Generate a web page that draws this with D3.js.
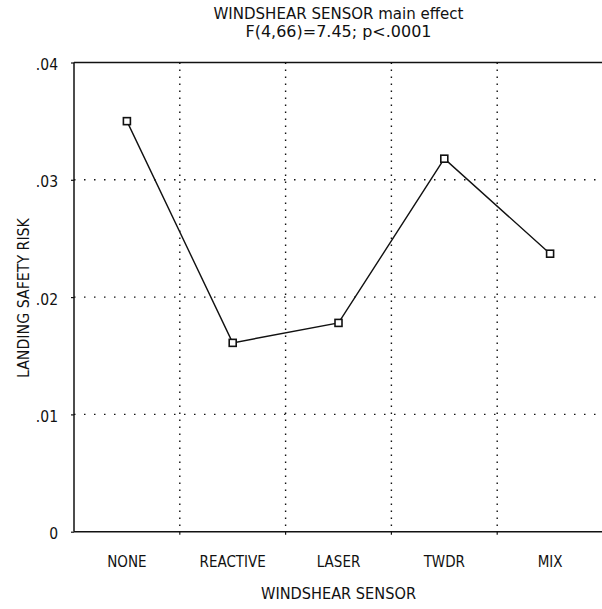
<!DOCTYPE html>
<html><head><meta charset="utf-8">
<script src="https://cdn.jsdelivr.net/npm/d3@7"></script>
<style>
html,body{margin:0;padding:0;background:#fff;}
text{font-family:"DejaVu Sans Condensed","DejaVu Sans",sans-serif;fill:#111;}
</style></head>
<body>
<svg id="c" width="602" height="609"></svg>
<script>
const categories = ["NONE","REACTIVE","LASER","TWDR","MIX"];
const values = [0.0350, 0.0161, 0.0178, 0.0318, 0.0237];
const yTicks = [0, 0.01, 0.02, 0.03, 0.04];
const yTickLabels = ["0", ".01", ".02", ".03", ".04"];
const titleLines = ["WINDSHEAR SENSOR main effect", "F(4,66)=7.45; p<.0001"];
const xTitle = "WINDSHEAR SENSOR";
const yTitle = "LANDING SAFETY RISK";

const svg = d3.select("#c");
const L = 74, R = 603, T = 62.5, B = 531.7;
const x = d3.scaleBand().domain(categories).range([L, R]).padding(0);
const y = d3.scaleLinear().domain([0, 0.04]).range([B, T]);

// horizontal grid
svg.append("g").selectAll("line").data(yTicks.filter(v => v > 0 && v < 0.04)).join("line")
  .attr("x1", L).attr("x2", R).attr("y1", d => y(d)).attr("y2", d => y(d))
  .attr("stroke", "#111").attr("stroke-width", 1.4).attr("stroke-dasharray", "1.5,8.5");
// vertical grid at category boundaries
const bounds = categories.slice(1).map(c => x(c));
svg.append("g").selectAll("line").data(bounds).join("line")
  .attr("x1", d => d).attr("x2", d => d).attr("y1", T).attr("y2", B)
  .attr("stroke", "#111").attr("stroke-width", 1.4).attr("stroke-dasharray", "1.5,5.5");

// frame: left, top, bottom
svg.append("line").attr("x1", L).attr("x2", L).attr("y1", T).attr("y2", B).attr("stroke", "#111").attr("stroke-width", 1.5);
svg.append("line").attr("x1", L).attr("x2", R).attr("y1", T).attr("y2", T).attr("stroke", "#111").attr("stroke-width", 1.5);
svg.append("line").attr("x1", L).attr("x2", R).attr("y1", B).attr("y2", B).attr("stroke", "#111").attr("stroke-width", 1.5);

// y axis ticks and labels
const yAxis = d3.axisLeft(y).tickValues(yTicks).tickFormat((d, i) => yTickLabels[i]).tickSize(3).tickPadding(13);
const gy = svg.append("g").attr("transform", `translate(${L},0)`).call(yAxis);
gy.select(".domain").remove();
gy.selectAll("line").attr("stroke", "#111").attr("stroke-width", 1.2);
gy.selectAll("text").attr("font-size", 15.5).attr("dy", "0.45em").attr("font-family", '"DejaVu Sans Condensed","DejaVu Sans",sans-serif').attr("fill", "#111");

// x axis labels
const xAxis = d3.axisBottom(x).tickSize(0).tickPadding(25);
const gx = svg.append("g").attr("transform", `translate(0,${B})`).call(xAxis);
gx.select(".domain").remove();
gx.selectAll("text").attr("font-size", 15).attr("font-family", '"DejaVu Sans Condensed","DejaVu Sans",sans-serif').attr("fill", "#111");
// x boundary ticks
svg.append("g").selectAll("line").data(bounds).join("line")
  .attr("x1", d => d).attr("x2", d => d).attr("y1", B).attr("y2", B + 3)
  .attr("stroke", "#111").attr("stroke-width", 1.2);

// line
const cx = c => x(c) + x.bandwidth() / 2;
const pts = categories.map((c, i) => [cx(c), y(values[i])]);
svg.append("path").attr("d", d3.line()(pts)).attr("fill", "none").attr("stroke", "#111").attr("stroke-width", 1.4);
svg.append("g").selectAll("rect").data(pts).join("rect")
  .attr("x", d => d[0] - 3.5).attr("y", d => d[1] - 3.5).attr("width", 7).attr("height", 7)
  .attr("fill", "#fff").attr("stroke", "#111").attr("stroke-width", 1.6);

// titles
const mid = (L + R) / 2;
svg.append("text").attr("x", mid).attr("y", 19).attr("text-anchor", "middle").attr("font-size", 15)
  .attr("textLength", 250).attr("lengthAdjust", "spacingAndGlyphs").text(titleLines[0]);
svg.append("text").attr("x", mid).attr("y", 37).attr("text-anchor", "middle").attr("font-size", 15)
  .attr("textLength", 186).attr("lengthAdjust", "spacingAndGlyphs").text(titleLines[1]);
svg.append("text").attr("x", mid).attr("y", 599).attr("text-anchor", "middle").attr("font-size", 16)
  .attr("textLength", 155).attr("lengthAdjust", "spacingAndGlyphs").text(xTitle);
svg.append("text").attr("transform", `translate(29,${(T + B) / 2 + 1}) rotate(-90)`).attr("text-anchor", "middle").attr("font-size", 15)
  .attr("textLength", 160).attr("lengthAdjust", "spacingAndGlyphs").text(yTitle);
</script>
</body></html>
